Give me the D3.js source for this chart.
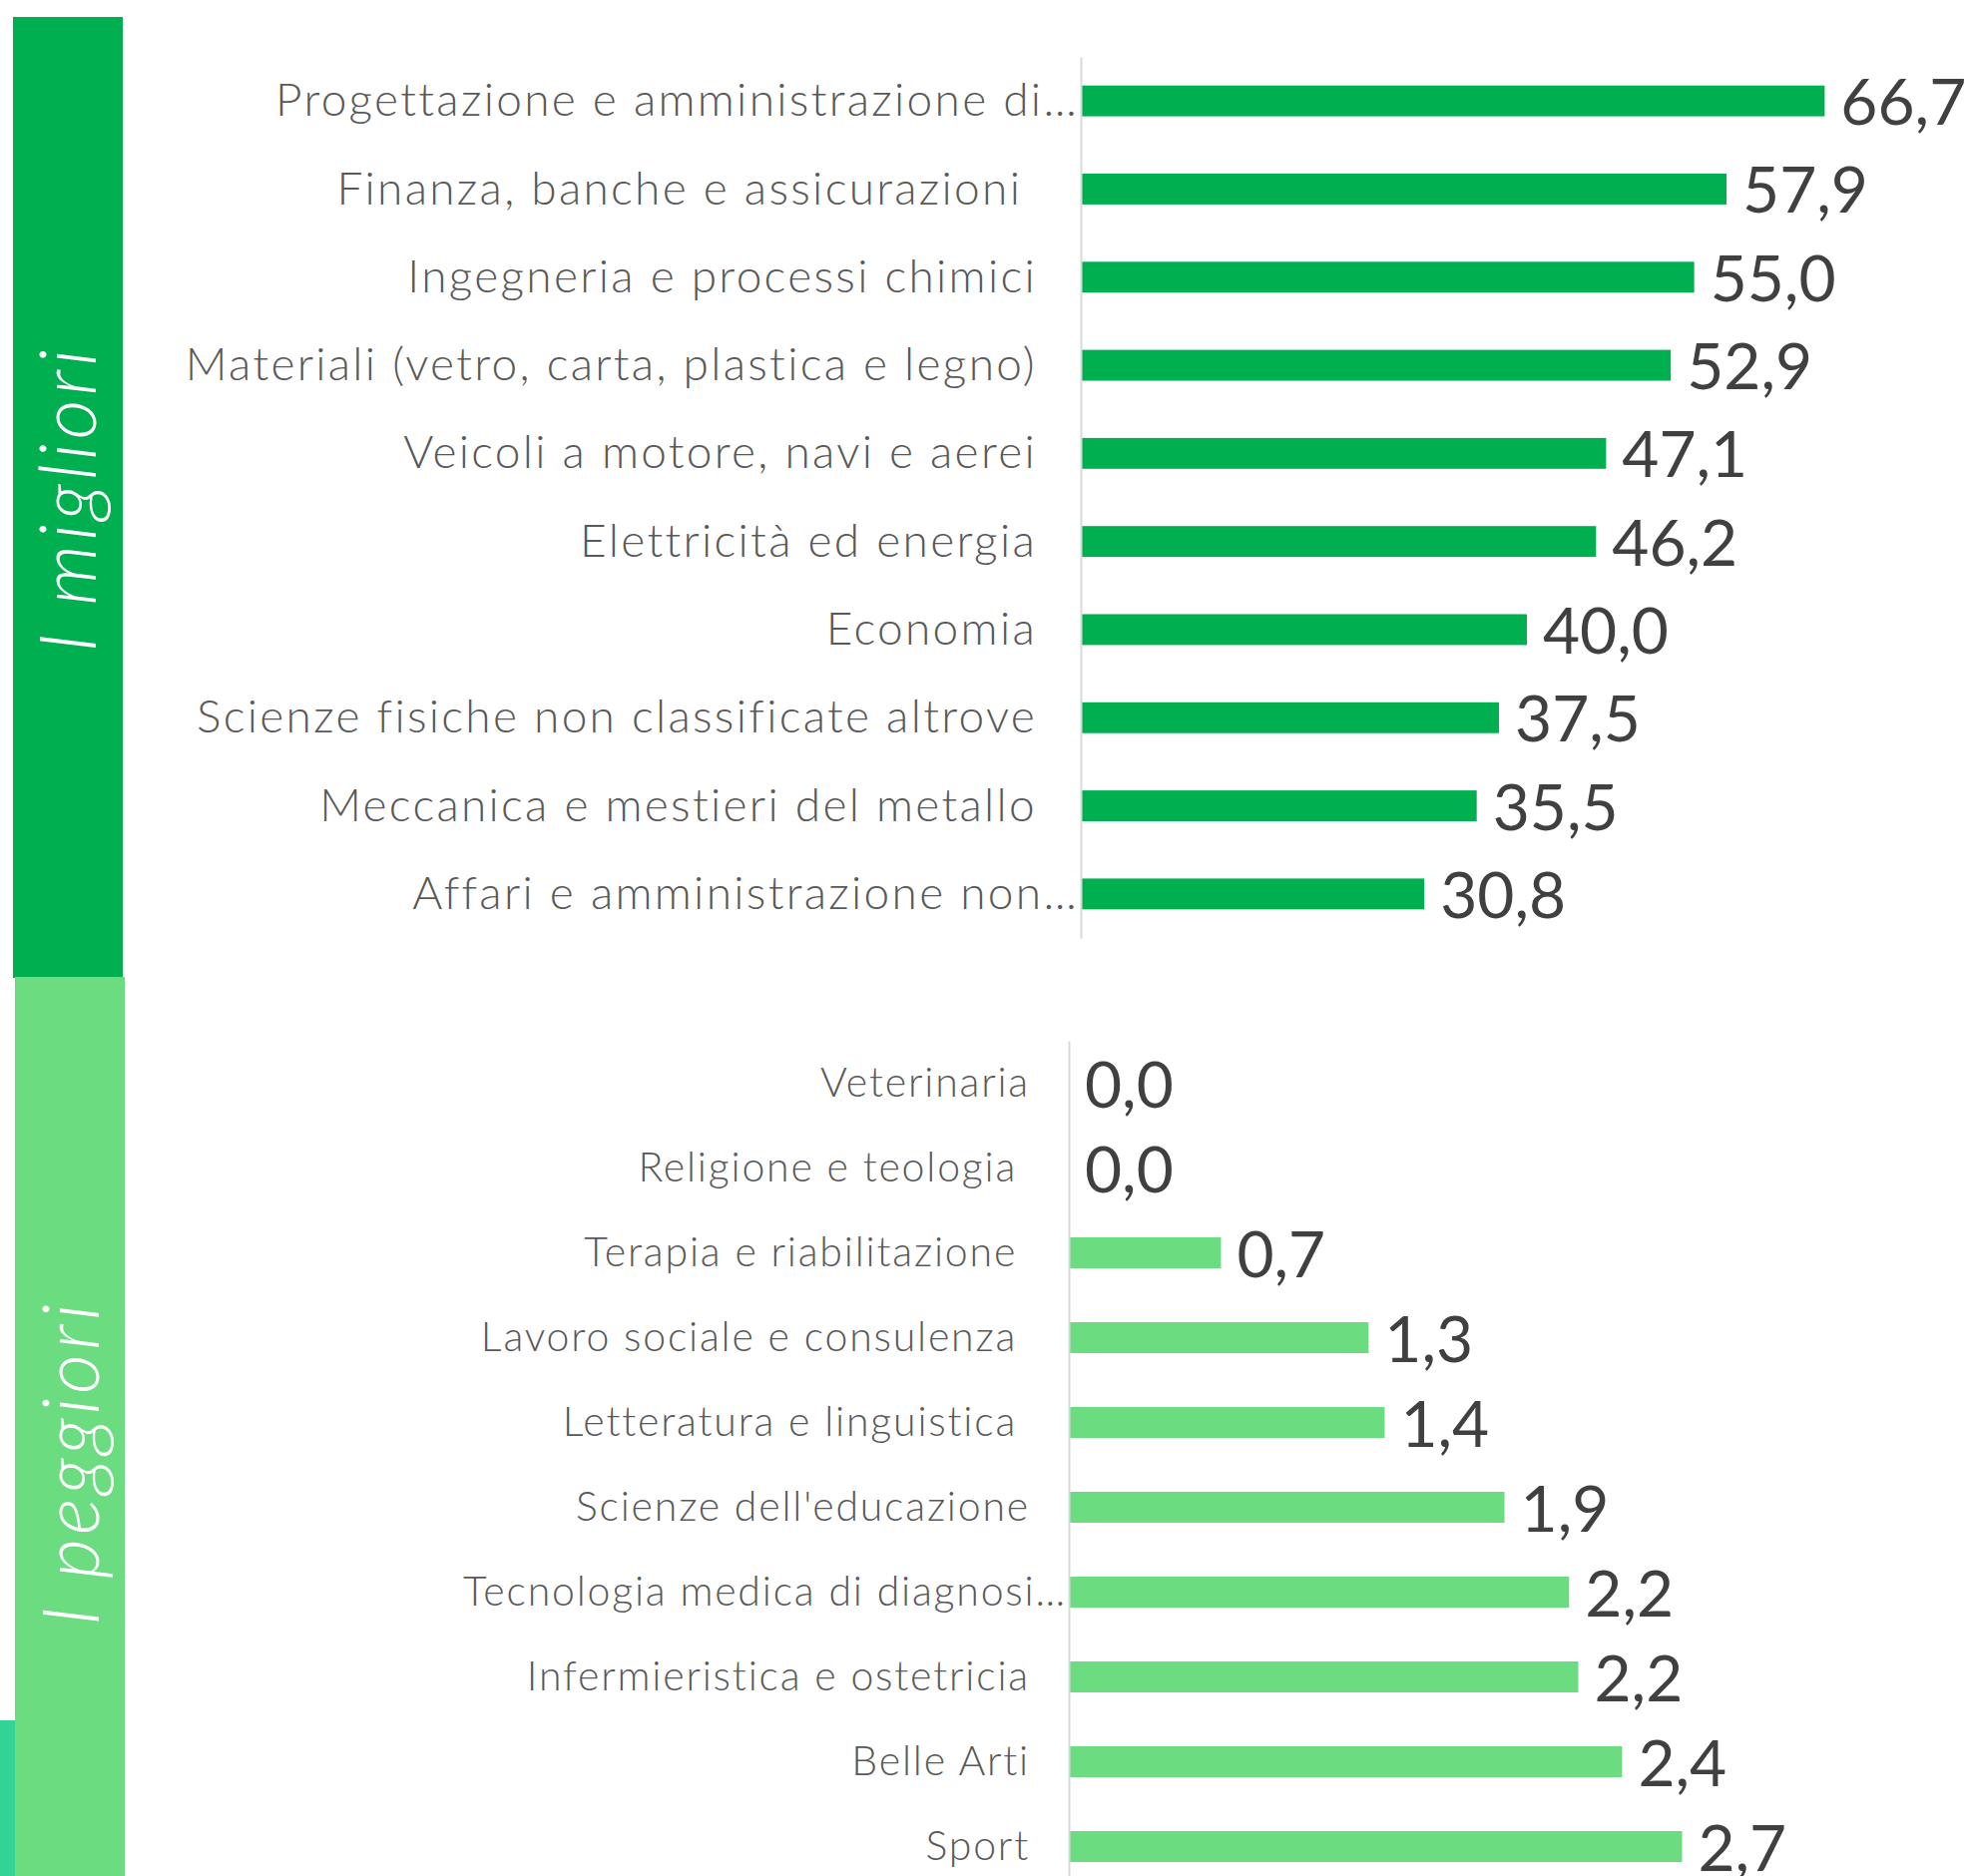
<!DOCTYPE html>
<html>
<head>
<meta charset="utf-8">
<script src="https://cdn.jsdelivr.net/npm/d3@7"></script>
<style>
  html, body { margin: 0; padding: 0; background: #ffffff; }
  svg { display: block; }
  text { white-space: pre; }
</style>
</head>
<body>
<svg id="chart" width="1976" height="1880"></svg>
<script>
// ---- data ----
const groupTitles = ["I migliori", "I peggiori"];

const categoriesTop = [
  "Progettazione e amministrazione di…",
  "Finanza, banche e assicurazioni ",
  "Ingegneria e processi chimici",
  "Materiali (vetro, carta, plastica e legno)",
  "Veicoli a motore, navi e aerei",
  "Elettricità ed energia",
  "Economia",
  "Scienze fisiche non classificate altrove",
  "Meccanica e mestieri del metallo",
  "Affari e amministrazione non…"
];
const valuesTop = [66.7, 57.9, 55.0, 52.9, 47.1, 46.2, 40.0, 37.5, 35.5, 30.8];

const categoriesBottom = [
  "Veterinaria",
  "Religione e teologia ",
  "Terapia e riabilitazione ",
  "Lavoro sociale e consulenza ",
  "Letteratura e linguistica ",
  "Scienze dell'educazione",
  "Tecnologia medica di diagnosi…",
  "Infermieristica e ostetricia",
  "Belle Arti",
  "Sport"
];
const valuesBottom = [0.0, 0.0, 0.66, 1.3, 1.37, 1.89, 2.17, 2.21, 2.4, 2.66];

// ---- styles ----
const darkGreen = "#00AF50";
const lightGreen = "#6BDC7F";
const tealStrip = "#33D393";
const labelColor = "#595959";
const valueColor = "#404040";
const axisColor = "#d9d9d9";
const fontFam = "Lato, 'Open Sans', 'Noto Sans', sans-serif";

const svg = d3.select("#chart");
const fmt = v => d3.format(".1f")(v).replace(".", ",");

// side bands
svg.append("rect").attr("x", 0).attr("y", 1724).attr("width", 15).attr("height", 156).attr("fill", tealStrip);
svg.append("rect").attr("x", 13).attr("y", 17).attr("width", 110).attr("height", 963).attr("fill", darkGreen);
svg.append("rect").attr("x", 15).attr("y", 979).attr("width", 110).attr("height", 901).attr("fill", lightGreen);

function bandTitle(text, cx, cy) {
  svg.append("text")
    .attr("transform", `translate(${cx},${cy}) rotate(-90)`)
    .attr("text-anchor", "middle")
    .attr("font-family", "Lato, 'Open Sans', sans-serif")
    .attr("font-weight", 300)
    .attr("font-style", "italic")
    .attr("font-size", 78)
    .attr("letter-spacing", 4)
    .attr("fill", "#ffffff")
    .text(text);
}
bandTitle(groupTitles[0], 96, 500);
bandTitle(groupTitles[1], 99, 1466);

function panel(cats, vals, opts) {
  const y = d3.scaleBand().domain(cats).range(opts.yRange)
    .paddingInner(opts.padIn).paddingOuter(opts.padIn / 2);
  const x = d3.scaleLinear().domain(opts.xDomain).range(opts.xRange);
  const g = svg.append("g");

  g.selectAll("rect.bar").data(vals).enter().append("rect")
    .attr("class", "bar")
    .attr("x", x(0))
    .attr("y", (d, i) => y(cats[i]))
    .attr("width", d => x(d) - x(0))
    .attr("height", y.bandwidth())
    .attr("fill", opts.color);

  // axis line
  const axis = d3.axisLeft(y).tickSize(0).tickFormat("");
  const ag = g.append("g").attr("transform", `translate(${x(0)},0)`).call(axis);
  ag.select(".domain").attr("stroke", axisColor).attr("stroke-width", 2);

  // category labels
  g.selectAll("text.cat").data(cats).enter().append("text")
    .attr("class", "cat")
    .attr("x", d => d.endsWith("…") ? x(0) - 2 : x(0) - opts.labelGap)
    .attr("y", d => y(d) + y.bandwidth() / 2 + opts.labelFs * 0.36 - 1.5)
    .attr("text-anchor", "end")
    .attr("font-family", fontFam)
    .attr("font-weight", 300)
    .attr("font-size", opts.labelFs)
    .attr("letter-spacing", opts.labelLs)
    .attr("fill", labelColor)
    .text(d => d);

  // value labels
  g.selectAll("text.val").data(vals).enter().append("text")
    .attr("class", "val")
    .attr("x", d => x(d) + 16)
    .attr("y", (d, i) => y(cats[i]) + y.bandwidth() / 2 + opts.valueFs * 0.36 + 1)
    .attr("font-family", fontFam)
    .attr("font-size", opts.valueFs)
    .attr("fill", valueColor)
    .text(d => fmt(d));
}

panel(categoriesTop, valuesTop, {
  yRange: [57, 940], padIn: 0.65,
  xDomain: [0, 70], xRange: [1083, 1083 + 70 * 11.175],
  color: darkGreen, labelGap: 44, labelFs: 46, labelLs: 2.3, valueFs: 64
});

panel(categoriesBottom, valuesBottom, {
  yRange: [1043, 1893], padIn: 0.635,
  xDomain: [0, 3.5], xRange: [1071, 1071 + 3.5 * 231],
  color: lightGreen, labelGap: 39, labelFs: 41, labelLs: 1.8, valueFs: 64
});
</script>
</body>
</html>
